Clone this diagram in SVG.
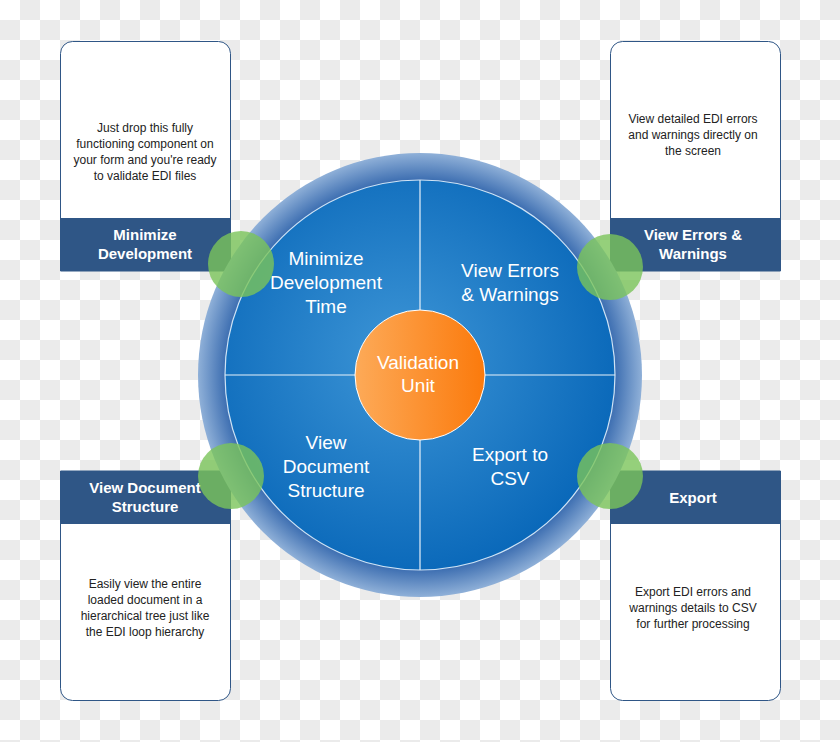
<svg xmlns="http://www.w3.org/2000/svg" width="840" height="742" viewBox="0 0 840 742">
<defs>
<pattern id="chk" width="40" height="40" patternUnits="userSpaceOnUse"><rect width="40" height="40" fill="#fff"/><rect x="20" width="20" height="20" fill="#ebebeb"/><rect y="20" width="20" height="20" fill="#ebebeb"/></pattern>
<radialGradient id="ring" cx="0.5" cy="0.5" r="0.5"><stop offset="0.85" stop-color="#2a5fa8"/><stop offset="1" stop-color="#8fb0d8"/></radialGradient>
<radialGradient id="disc" cx="0.45" cy="0.45" r="0.6"><stop offset="0" stop-color="#3d95d6"/><stop offset="1" stop-color="#0766b8"/></radialGradient>
<linearGradient id="or" x1="0" x2="1"><stop offset="0" stop-color="#fdaa58"/><stop offset="1" stop-color="#fb7a0c"/></linearGradient>
</defs>
<style>
.box{fill:#fff;stroke:#2f5686;stroke-width:1}
.hd{fill:#2f5686}
.d{font-family:"Liberation Sans",Arial,sans-serif;font-size:12px;fill:#222;text-anchor:middle}
.h{font-family:"Liberation Sans",Arial,sans-serif;font-size:15px;font-weight:bold;fill:#fff;text-anchor:middle}
.c{font-family:"Liberation Sans",Arial,sans-serif;font-size:19px;fill:#fff;text-anchor:middle}
.g{fill:#7ac45a;fill-opacity:0.8}
</style>
<rect width="840" height="742" fill="url(#chk)"/>
<g id="box-tl"><path class="box" d="M60.5 271V53.5a12 12 0 0 1 12-12h146a12 12 0 0 1 12 12V271z"/><rect class="hd" x="60" y="218" width="171" height="53"/>
<text class="d"><tspan x="145" y="132">Just drop this fully</tspan><tspan x="145" y="148">functioning component on</tspan><tspan x="145" y="164">your form and you're ready</tspan><tspan x="145" y="180">to validate EDI files</tspan></text>
<text class="h"><tspan x="145" y="240">Minimize</tspan><tspan x="145" y="259">Development</tspan></text></g>
<g id="box-tr"><path class="box" d="M610.5 271V53.5a12 12 0 0 1 12-12h146a12 12 0 0 1 12 12V271z"/><rect class="hd" x="610" y="218" width="171" height="53"/>
<text class="d"><tspan x="693" y="123">View detailed EDI errors</tspan><tspan x="693" y="139">and warnings directly on</tspan><tspan x="693" y="155">the screen</tspan></text>
<text class="h"><tspan x="693" y="240">View Errors &amp;</tspan><tspan x="693" y="259">Warnings</tspan></text></g>
<g id="box-bl"><path class="box" d="M60.5 471V688.5a12 12 0 0 0 12 12h146a12 12 0 0 0 12-12V471z"/><rect class="hd" x="60" y="471" width="171" height="53"/>
<text class="d"><tspan x="145" y="588">Easily view the entire</tspan><tspan x="145" y="604">loaded document in a</tspan><tspan x="145" y="620">hierarchical tree just like</tspan><tspan x="145" y="636">the EDI loop hierarchy</tspan></text>
<text class="h"><tspan x="145" y="493">View Document</tspan><tspan x="145" y="512">Structure</tspan></text></g>
<g id="box-br"><path class="box" d="M610.5 471V688.5a12 12 0 0 0 12 12h146a12 12 0 0 0 12-12V471z"/><rect class="hd" x="610" y="471" width="171" height="53"/>
<text class="d"><tspan x="693" y="596">Export EDI errors and</tspan><tspan x="693" y="612">warnings details to CSV</tspan><tspan x="693" y="628">for further processing</tspan></text>
<text class="h"><tspan x="693" y="503">Export</tspan></text></g>
<g id="wheel">
<circle cx="420" cy="375" r="222" fill="url(#ring)"/>
<circle cx="420" cy="375" r="195" fill="url(#disc)" stroke="#cfe3f5" stroke-width="1.2"/>
</g>
<g id="connectors" stroke="#e8f1fa" stroke-width="1.2"><line x1="420" y1="180" x2="420" y2="570"/><line x1="225" y1="375" x2="615" y2="375"/></g>
<g id="center"><circle cx="420" cy="375" r="65" fill="url(#or)" stroke="#fff" stroke-width="1"/>
<text class="c"><tspan x="418" y="369">Validation</tspan><tspan x="418" y="392">Unit</tspan></text></g>
<g id="labels"><text class="c"><tspan x="326" y="265">Minimize</tspan><tspan x="326" y="289">Development</tspan><tspan x="326" y="313">Time</tspan></text>
<text class="c"><tspan x="510" y="277">View Errors</tspan><tspan x="510" y="301">&amp; Warnings</tspan></text>
<text class="c"><tspan x="326" y="449">View</tspan><tspan x="326" y="473">Document</tspan><tspan x="326" y="497">Structure</tspan></text>
<text class="c"><tspan x="510" y="461">Export to</tspan><tspan x="510" y="485">CSV</tspan></text></g>
<g id="dots"><circle class="g" cx="241" cy="264" r="33"/><circle class="g" cx="610" cy="267" r="33"/><circle class="g" cx="231" cy="476" r="33"/><circle class="g" cx="610" cy="476" r="33"/></g>
</svg>
